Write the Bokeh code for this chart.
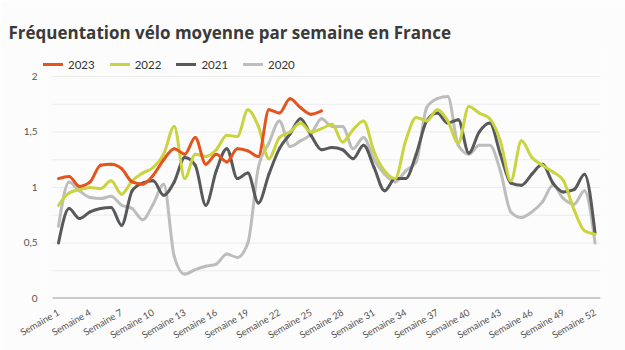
import numpy as np
from bokeh.plotting import figure
from bokeh.models import (ColumnDataSource, Range1d, FixedTicker, Legend, LegendItem)
from bokeh.embed import file_html
from bokeh.resources import INLINE

weeks = list(range(1, 53))
tick_weeks = [1, 4, 7, 10, 13, 16, 19, 22, 25, 28, 31, 34, 37, 40, 43, 46, 49, 52]
tick_labels = ["Semaine %d" % w for w in tick_weeks]
grid_levels = [0.25, 0.5, 0.75, 1, 1.25, 1.5, 1.75, 2]

v2023 = [1.08, 1.10, 1.01, 1.05, 1.20, 1.21, 1.17, 1.05, 1.03, 1.11, 1.25, 1.35, 1.30,
         1.45, 1.21, 1.30, 1.23, 1.35, 1.33, 1.28, 1.70, 1.67, 1.80, 1.72, 1.66, 1.69]
v2022 = [0.84, 0.95, 0.98, 1.00, 0.99, 1.06, 0.94, 1.06, 1.13, 1.18, 1.30, 1.55, 1.08,
         1.30, 1.28, 1.34, 1.47, 1.46, 1.70, 1.55, 1.26, 1.45, 1.50, 1.58, 1.50, 1.53,
         1.57, 1.41, 1.52, 1.60, 1.32, 1.15, 1.08, 1.42, 1.63, 1.60, 1.70, 1.60, 1.40,
         1.73, 1.67, 1.62, 1.42, 1.06, 1.42, 1.27, 1.20, 1.14, 1.06, 0.80, 0.61, 0.58]
v2021 = [0.50, 0.81, 0.72, 0.78, 0.81, 0.82, 0.66, 0.97, 1.04, 1.06, 0.93, 1.05, 1.27,
         1.20, 0.84, 1.15, 1.35, 1.08, 1.13, 0.86, 1.12, 1.35, 1.48, 1.62, 1.47, 1.34,
         1.36, 1.34, 1.26, 1.38, 1.18, 0.97, 1.08, 1.08, 1.30, 1.60, 1.67, 1.58, 1.61,
         1.31, 1.50, 1.58, 1.30, 1.04, 1.02, 1.12, 1.21, 1.04, 0.96, 0.98, 1.12, 0.59]
v2020 = [0.65, 1.05, 0.97, 0.91, 0.90, 0.92, 0.84, 0.81, 0.71, 0.85, 1.03, 0.38, 0.22,
         0.26, 0.29, 0.31, 0.40, 0.37, 0.50, 1.18, 1.40, 1.60, 1.37, 1.42, 1.48, 1.62,
         1.55, 1.55, 1.35, 1.45, 1.25, 1.12, 1.05, 1.15, 1.23, 1.72, 1.80, 1.82, 1.38,
         1.30, 1.38, 1.38, 1.15, 0.78, 0.73, 0.78, 0.87, 1.02, 0.90, 0.85, 0.97, 0.50]

series = [("2020", v2020, "#bdbdbd"), ("2021", v2021, "#58595b"),
          ("2022", v2022, "#c9d43f"), ("2023", v2023, "#e4541c")]
legend_order = ["2023", "2022", "2021", "2020"]

X_START, X_END = 0.43, 52.52


def monotone_bezier(xs, ys):
    x = np.asarray(xs, float)
    y = np.asarray(ys, float)
    n = len(y)
    h = np.diff(x)
    s = np.diff(y) / h
    m = np.zeros(n)
    for i in range(1, n - 1):
        s0, s1 = s[i - 1], s[i]
        p = (s0 * h[i] + s1 * h[i - 1]) / (h[i - 1] + h[i])
        m[i] = (np.sign(s0) + np.sign(s1)) * min(abs(s0), abs(s1), 0.5 * abs(p))
    m[0] = (3 * s[0] - m[1]) / 2
    m[-1] = (3 * s[-1] - m[-2]) / 2
    return dict(x0=x[:-1], y0=y[:-1], x1=x[1:], y1=y[1:],
                cx0=x[:-1] + h / 3, cy0=y[:-1] + m[:-1] * h / 3,
                cx1=x[1:] - h / 3, cy1=y[1:] - m[1:] * h / 3)


# frame: x 40..600 px, y 50..298 px
p = figure(width=625, height=350, output_backend="svg", toolbar_location=None,
           x_range=Range1d(-0.711, X_END), y_range=Range1d(0, 2.234),
           min_border_left=40, min_border_right=25, min_border_top=50, min_border_bottom=52,
           background_fill_color="#fcfcfc", border_fill_color="#fcfcfc",
           title="Fréquentation vélo moyenne par semaine en France")
p.outline_line_color = None

p.title.align = "left"
p.title.vertical_align = "top"
p.title.offset = -32
p.title.standoff = 10
p.title.text_font = "Open Sans"
p.title.text_font_style = "bold"
p.title.text_font_size = "17px"
p.title.text_color = "#3a3a3a"

p.xgrid.grid_line_color = None
p.ygrid.grid_line_color = None

# horizontal grid lines spanning the data extent only
p.segment(x0=[X_START] * len(grid_levels), x1=[X_END] * len(grid_levels),
          y0=grid_levels, y1=grid_levels, line_color="#ebebeb", line_width=1)
# baseline
p.segment(x0=[X_START], x1=[X_END], y0=[0], y1=[0], line_color="#999999", line_width=2)

p.yaxis.ticker = FixedTicker(ticks=[0, 0.5, 1, 1.5, 2])
p.yaxis.major_label_overrides = {0: "0", 0.5: "0,5", 1: "1", 1.5: "1,5", 2: "2"}
p.yaxis.axis_line_color = None
p.yaxis.major_tick_line_color = None
p.yaxis.minor_tick_line_color = None
p.yaxis.major_label_standoff = -3
p.yaxis.major_label_text_font = "Lato"
p.yaxis.major_label_text_font_size = "10px"
p.yaxis.major_label_text_color = "#555555"

p.xaxis.ticker = FixedTicker(ticks=tick_weeks)
p.xaxis.major_label_overrides = dict(zip(tick_weeks, tick_labels))
p.xaxis.major_label_orientation = 0.52
p.xaxis.axis_line_color = None
p.xaxis.major_tick_line_color = None
p.xaxis.minor_tick_line_color = None
p.xaxis.major_label_standoff = 7
p.xaxis.major_label_text_font = "Lato"
p.xaxis.major_label_text_font_size = "9.5px"
p.xaxis.major_label_text_color = "#555555"

renderers = {}
for name, vals, color in series:
    src = ColumnDataSource(monotone_bezier(weeks[:len(vals)], vals))
    renderers[name] = p.bezier(x0="x0", y0="y0", x1="x1", y1="y1",
                               cx0="cx0", cy0="cy0", cx1="cx1", cy1="cy1",
                               source=src, line_color=color, line_width=3, line_cap="round")

items = [LegendItem(label=n, renderers=[renderers[n]], index=0) for n in legend_order]
legend = Legend(items=items, orientation="horizontal", location=(3, 226),
                padding=0, margin=0, spacing=15, glyph_width=20, glyph_height=16,
                label_standoff=5, border_line_color=None, background_fill_alpha=0,
                label_text_font="Lato", label_text_font_size="11.5px",
                label_text_color="#333333")
p.add_layout(legend, "center")

open("out.html", "w").write(file_html(p, INLINE))
